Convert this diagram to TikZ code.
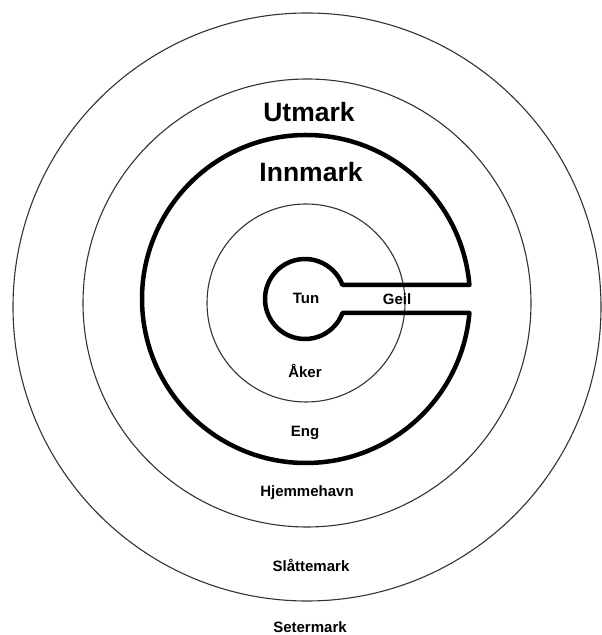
\documentclass[tikz,border=0pt]{standalone}
\usepackage{fontspec}
\setmainfont{Liberation Sans}
\begin{document}
\begin{tikzpicture}[x=1pt,y=1pt,
  ring/.style={draw=black!80,line width=1.1pt},
  wall/.style={draw=black,line width=4.5pt,line join=round},
  biglabel/.style={font=\bfseries\fontsize{26.5}{30}\selectfont,anchor=base,inner sep=0pt},
  smalllabel/.style={font=\bfseries\fontsize{15}{18}\selectfont,anchor=base,inner sep=0pt}]
\useasboundingbox (0,0) rectangle (602,635);
% thin rings
\draw[ring] (307,328) circle[radius=294];
\draw[ring] (307,332) circle[radius=224];
\draw[ring] (306,332) circle[radius=99];
% Innmark wall with Tun and Geil
\draw[wall] (342.47,350) -- (469.40,350)
  arc[start angle=4.897, end angle=355.103, radius=164]
  -- (342.47,322)
  arc[start angle=-20.487, end angle=-339.513, radius=40] -- cycle;
% labels
\node[biglabel] (utmark) at (309,513) {Utmark};
\node[biglabel] (innmark) at (311,453) {Innmark};
\node[smalllabel] (tun) at (306,331) {Tun};
\node[smalllabel] (geil) at (397,330) {Geil};
\node[smalllabel] (aker) at (305,257) {Åker};
\node[smalllabel] (eng) at (305,198) {Eng};
\node[smalllabel] (hjemmehavn) at (307,138) {Hjemmehavn};
\node[smalllabel] (slattemark) at (311,63) {Slåttemark};
\node[smalllabel] (setermark) at (310,2) {Setermark};
\end{tikzpicture}
\end{document}
